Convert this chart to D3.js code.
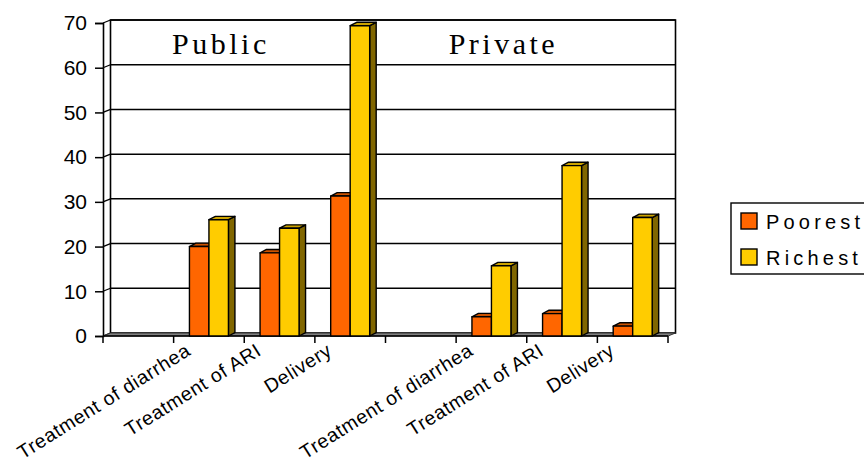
<!DOCTYPE html>
<html>
<head>
<meta charset="utf-8">
<script src="https://cdn.jsdelivr.net/npm/d3@7/dist/d3.min.js"></script>
<style>
  html, body { margin: 0; padding: 0; background: #fff; }
  svg { display: block; }
</style>
</head>
<body>
<svg id="chart" width="864" height="465"></svg>
<script>
// ---- data ----
const categories = ["", "Treatment of diarrhea", "Treatment of ARI", "Delivery",
                    "", "Treatment of diarrhea", "Treatment of ARI", "Delivery"];
const poorest = [null, 20, 18.6, 31.3, null, 4.3, 5.0, 2.2];
const richest = [null, 26, 24.1, 69.4, null, 15.7, 38.1, 26.5];
const seriesNames = ["Poorest", "Richest"];
const groupTitles = ["Public", "Private"];
const groupStart = [0, 4];
const yTicks = [0, 10, 20, 30, 40, 50, 60, 70];

// ---- styles ----
const SANS = "Arial, 'Liberation Sans', sans-serif";
const SERIF = "'Liberation Serif', 'Times New Roman', serif";
const faceColors = {
  Poorest: { front: "#FF6600", top: "#CC5200", side: "#993D00" },
  Richest: { front: "#FFCC00", top: "#CCA300", side: "#806600" }
};

const svg = d3.select("#chart").style("font-family", SANS);
const x0 = 103, x1 = 668, yBase = 336, yTop = 23;
const wallDx = 7.5, wallDy = -3;
const barDx = 6.5, barDy = -3.4;

const x = d3.scaleBand().domain(d3.range(categories.length)).range([x0, x1]).padding(0);
const bw = x.bandwidth();
const xs = d3.scaleBand().domain(seriesNames).range([bw * 0.224, bw * 0.776]).padding(0);
const y = d3.scaleLinear().domain([0, 70]).range([yBase, yTop]);

// back wall
const wall = svg.append("g");
wall.append("rect")
  .attr("x", x0 + wallDx).attr("y", y(70) + wallDy)
  .attr("width", x1 - x0).attr("height", y(0) - y(70))
  .attr("fill", "#fff").attr("stroke", "#000").attr("stroke-width", 1.6);

// gridlines on back wall + side-wall connectors
yTicks.forEach(t => {
  const yf = y(t), yb = y(t) + wallDy;
  if (t > 0) {
    wall.append("line").attr("x1", x0 + wallDx).attr("x2", x1 + wallDx)
      .attr("y1", yb).attr("y2", yb).attr("stroke", "#000").attr("stroke-width", 1.5);
  }
  wall.append("line").attr("x1", x0).attr("x2", x0 + wallDx)
    .attr("y1", yf).attr("y2", yb).attr("stroke", "#000").attr("stroke-width", 1.2);
});

// floor
svg.append("polygon")
  .attr("points", [[x0, yBase], [x1, yBase], [x1 + wallDx, yBase + wallDy], [x0 + wallDx, yBase + wallDy]].map(p => p.join(",")).join(" "))
  .attr("fill", "#808080").attr("stroke", "#333").attr("stroke-width", 1);

// y axis (front)
const yAxis = d3.axisLeft(y).tickValues(yTicks).tickSize(8).tickPadding(8).tickFormat(d3.format("d"));
const gy = svg.append("g").attr("transform", `translate(${x0},0)`).call(yAxis);
gy.attr("font-family", null).attr("font-size", null);
gy.select(".domain").attr("stroke", "#000").attr("stroke-width", 1.6);
gy.selectAll(".tick line").attr("stroke", "#000").attr("stroke-width", 1.5);
gy.selectAll(".tick text").style("font-size", "21px").style("font-family", SANS).attr("fill", "#000");

// x axis (front)
const xEdges = d3.range(categories.length + 1).map(i => i < categories.length ? x(i) : x1);
const gx = svg.append("g");
gx.append("line").attr("x1", x0).attr("x2", x1).attr("y1", yBase).attr("y2", yBase)
  .attr("stroke", "#000").attr("stroke-width", 1.6);
xEdges.forEach(e => {
  gx.append("line").attr("x1", e).attr("x2", e).attr("y1", yBase).attr("y2", yBase + 7)
    .attr("stroke", "#000").attr("stroke-width", 1.5);
});
categories.forEach((c, i) => {
  if (!c) return;
  const cx = x(i) + bw / 2 - 17;
  gx.append("text").attr("transform", `translate(${cx},${yBase + 18}) rotate(-32)`)
    .attr("text-anchor", "end").style("font-size", "19.5px").style("letter-spacing", "0.6px")
    .style("font-family", SANS).attr("fill", "#000").text(c);
});

// bars
const bars = svg.append("g");
const pts = a => a.map(p => p.join(",")).join(" ");
categories.forEach((c, i) => {
  seriesNames.forEach((s, si) => {
    const v = (si === 0 ? poorest : richest)[i];
    if (v === null || v === undefined) return;
    const bx = x(i) + xs(s), bwid = xs.bandwidth();
    const yv = y(v), col = faceColors[s];
    const g = bars.append("g").attr("stroke", "#000").attr("stroke-width", 1.4).attr("stroke-linejoin", "round");
    g.append("polygon").attr("fill", col.side)
      .attr("points", pts([[bx + bwid, yv], [bx + bwid + barDx, yv + barDy], [bx + bwid + barDx, yBase + barDy], [bx + bwid, yBase]]));
    g.append("polygon").attr("fill", col.top)
      .attr("points", pts([[bx, yv], [bx + barDx, yv + barDy], [bx + bwid + barDx, yv + barDy], [bx + bwid, yv]]));
    g.append("rect").attr("fill", col.front)
      .attr("x", bx).attr("y", yv).attr("width", bwid).attr("height", yBase - yv);
  });
});

// group titles
groupTitles.forEach((t, gi) => {
  svg.append("text").attr("x", x(groupStart[gi] + 1) + bw * 0.67).attr("y", 54)
    .attr("text-anchor", "middle").style("font-family", SERIF)
    .style("font-size", "30px").style("letter-spacing", "3.5px").attr("fill", "#000").text(t);
});

// legend
const lg = svg.append("g");
lg.append("rect").attr("x", 731).attr("y", 203).attr("width", 140).attr("height", 71)
  .attr("fill", "#fff").attr("stroke", "#000").attr("stroke-width", 1.4);
seriesNames.forEach((s, i) => {
  const ly = 213 + i * 36;
  lg.append("rect").attr("x", 741).attr("y", ly).attr("width", 16).attr("height", 16)
    .attr("fill", faceColors[s].front).attr("stroke", "#000").attr("stroke-width", 1.4);
  lg.append("text").attr("x", 766).attr("y", ly + 16).style("font-size", "20px")
    .style("letter-spacing", "4.2px").style("font-family", SANS).attr("fill", "#000").text(s);
});
</script>
</body>
</html>
